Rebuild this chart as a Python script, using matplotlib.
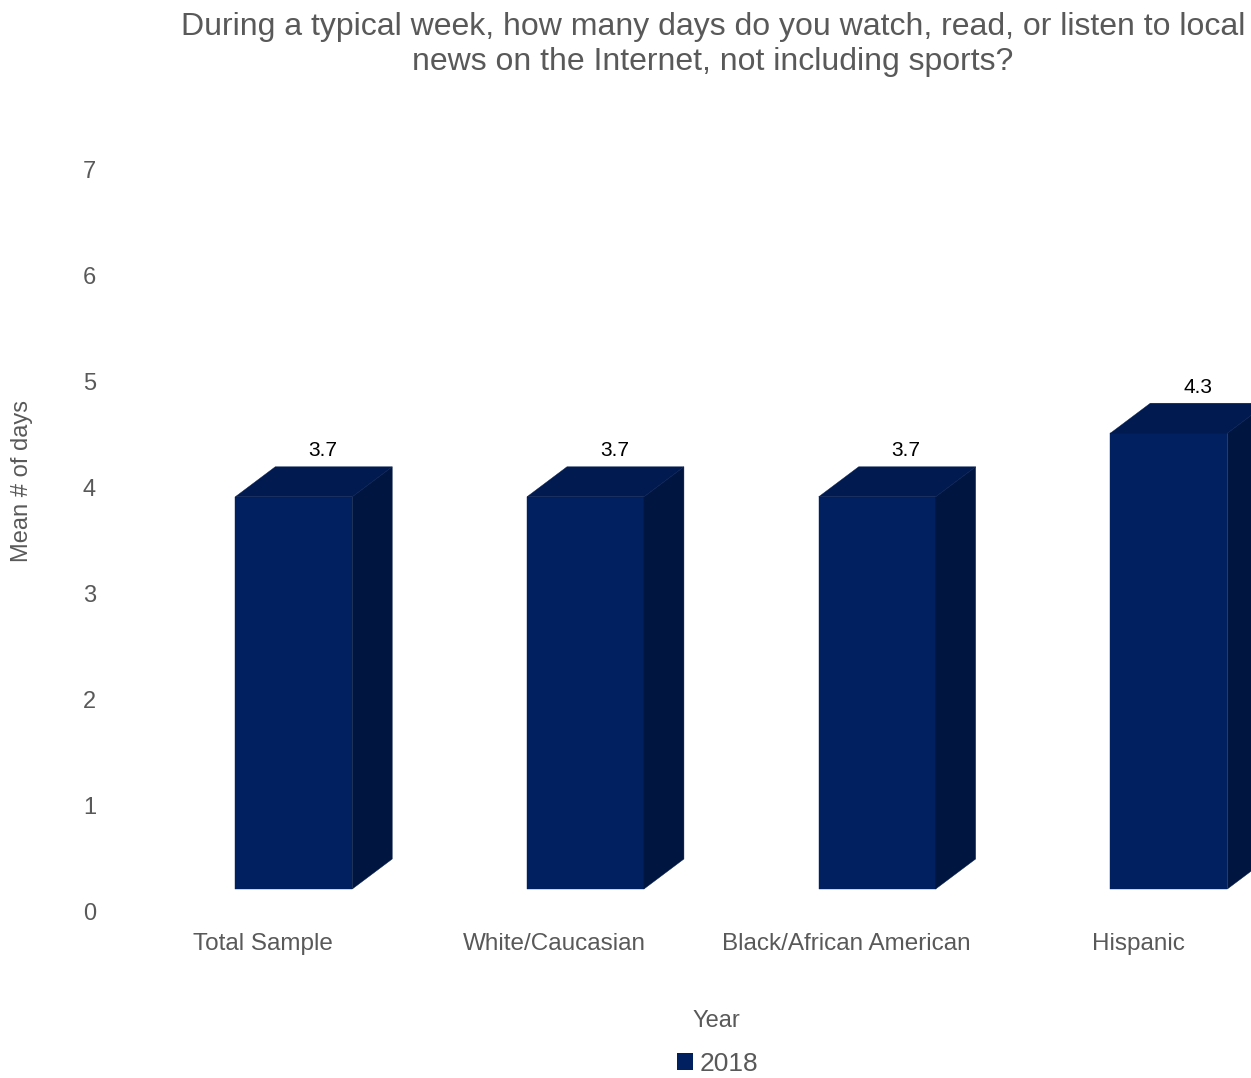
import matplotlib
matplotlib.use("Agg")
import matplotlib.pyplot as plt
from matplotlib.patches import Polygon, Patch

plt.rcParams['font.family'] = ['Liberation Sans', 'DejaVu Sans']

categories = ["Total Sample", "White/Caucasian", "Black/African American", "Hispanic"]
values = [3.7, 3.7, 3.7, 4.3]
value_labels = ["3.7", "3.7", "3.7", "4.3"]
series_name = "2018"
yticks = [0, 1, 2, 3, 4, 5, 6, 7]
title = "During a typical week, how many days do you watch, read, or listen to local\nnews on the Internet, not including sports?"

GRAY = "#595959"
FRONT = "#012060"
TOP = "#011A4F"
SIDE = "#001640"

W, H = 1251, 1078
fig = plt.figure(figsize=(W / 100, H / 100), dpi=100)
ax = fig.add_axes([110 / W, 166 / H, (W - 110) / W, 742 / H])
ax.set_xlim(-(263 - 110) / 291.7, (W - 263) / 291.7)
ax.set_ylim(0, 7)

base = 0.217
bw = 0.401
off = -0.095
dx = 0.137
dy = 0.283

xs = list(range(len(categories)))
ax.bar([x + off for x in xs], values, width=bw, bottom=base, align='edge',
       color=FRONT, edgecolor=FRONT, linewidth=0.3, zorder=2)
for x, v, lab in zip(xs, values, value_labels):
    x0 = x + off
    x1 = x0 + bw
    top = base + v
    side = Polygon([(x1, base), (x1 + dx, base + dy), (x1 + dx, top + dy), (x1, top)],
                   closed=True, facecolor=SIDE, edgecolor=SIDE, linewidth=0.3, zorder=2)
    topf = Polygon([(x0, top), (x0 + dx, top + dy), (x1 + dx, top + dy), (x1, top)],
                   closed=True, facecolor=TOP, edgecolor=TOP, linewidth=0.3, zorder=2)
    ax.add_patch(side)
    ax.add_patch(topf)
    ax.text(x + 0.205, top + dy + 0.15, lab, ha='center', va='center',
            fontsize=15, color='black', zorder=3)

for s in ax.spines.values():
    s.set_visible(False)
ax.set_yticks(yticks)
ax.set_yticklabels([str(t) for t in yticks])
ax.set_xticks(xs)
ax.set_xticklabels(categories)
ax.tick_params(axis='y', length=0, pad=10, labelsize=17, labelcolor=GRAY)
ax.tick_params(axis='x', length=0, pad=15, labelsize=17.5, labelcolor=GRAY)
ax.set_ylabel("Mean # of days", fontsize=17, color=GRAY)
ax.yaxis.label.set_va('center')
ax.yaxis.set_label_coords(-(110 - 22) / 1141, (912 - 481) / 742)
ax.set_xlabel("Year", fontsize=17, color=GRAY)
ax.xaxis.label.set_va('center')
ax.xaxis.set_label_coords((716 - 110) / 1141, (912 - 1021) / 742)

fig.text(713 / W, 1 - 44.5 / H, title, ha='center', va='center', fontsize=23,
         color=GRAY, linespacing=1.25)

handle = Patch(facecolor=FRONT, edgecolor='none', label=series_name)
fig.legend(handles=[handle], loc='center', bbox_to_anchor=(718 / W, 1 - 1064 / H),
           frameon=False, fontsize=19, handlelength=0.6, handleheight=0.6,
           handletextpad=0.25, labelcolor=GRAY)

fig.savefig("out.png", dpi=100)
